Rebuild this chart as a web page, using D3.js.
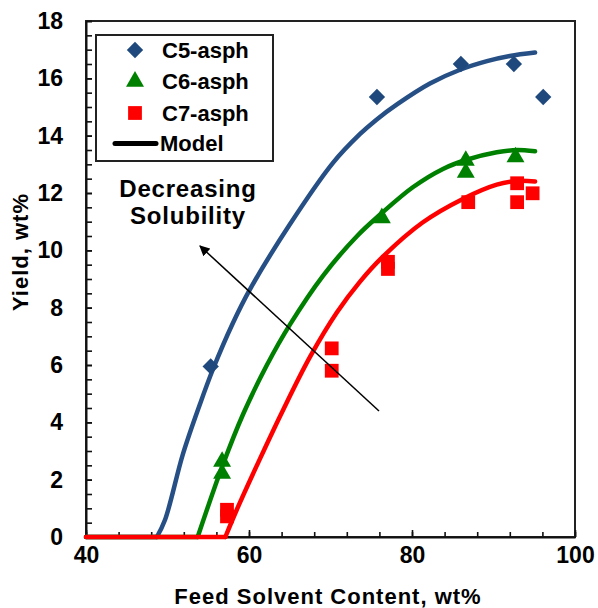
<!DOCTYPE html>
<html>
<head>
<meta charset="utf-8">
<script src="https://cdn.jsdelivr.net/npm/d3@7"></script>
<style>
  html, body { margin: 0; padding: 0; background: #fff; }
  svg { display: block; font-family: "Liberation Sans", Arial, sans-serif; }
</style>
</head>
<body>
<svg id="chart" width="598" height="608"></svg>
<script>
// Measured asphaltene yields
const c5X = [55.3, 75.7, 86.0, 92.5, 96.1];
const c5Y = [5.95, 15.35, 16.5, 16.5, 15.35];
const c6X = [56.7, 56.7, 76.3, 86.6, 86.6, 92.7];
const c6Y = [2.63, 2.21, 11.13, 13.13, 12.71, 13.25];
const c7X = [57.3, 57.3, 70.15, 70.15, 77.05, 77.05, 86.9, 92.9, 92.9, 94.8];
const c7Y = [0.95, 0.72, 6.58, 5.8, 9.6, 9.35, 11.68, 12.34, 11.68, 11.99];

// Model curves (first point is the onset; yield is zero below it)
const modelC5X = [48.7, 49.7, 51.9, 54.0, 55.6, 58.0, 60.1, 65.0, 70.3, 73.6, 75.6, 78.2, 82.2, 85.9, 89.2, 92.0, 95.1];
const modelC5Y = [0, 0.6, 2.9, 4.65, 5.87, 7.45, 8.63, 10.9, 13.05, 14.05, 14.55, 15.1, 15.82, 16.3, 16.6, 16.78, 16.9];
const modelC6X = [53.7, 56.7, 59.3, 62.2, 65.0, 69.1, 73.3, 76.1, 80.1, 83.8, 86.7, 90.4, 92.9, 95.1];
const modelC6Y = [0, 2.45, 4.3, 6.0, 7.4, 9.12, 10.51, 11.25, 12.2, 12.84, 13.16, 13.42, 13.5, 13.46];
const modelC7X = [57.1, 58.5, 61.3, 64.2, 67.5, 70.8, 73.6, 76.4, 81.3, 86.3, 90.4, 92.9, 95.1];
const modelC7Y = [0, 0.95, 2.7, 4.44, 6.29, 7.84, 8.9, 9.77, 10.97, 11.8, 12.29, 12.42, 12.4];
const modelStartX = 40;

// Axis ticks
const xMajorTicks = [40, 60, 80, 100];
const xMinorTicks = d3.range(40, 100.1, 4);
const yMajorTicks = d3.range(0, 18.1, 2);
const yMinorTicks = d3.range(0, 18.01, 0.5);

const seriesNames = ["C5-asph", "C6-asph", "C7-asph"];
const modelName = "Model";
const xTitle = "Feed Solvent Content, wt%";
const yTitle = "Yield, wt%";
const noteLines = ["Decreasing", "Solubility"];

const BLUE = "#1f497d", BLUE_LINE = "#264f85", GREEN = "#008000", RED = "#ff0000";

const svg = d3.select("#chart");
const x = d3.scaleLinear().domain([40, 100]).range([86, 575]);
const y = d3.scaleLinear().domain([0, 18]).range([537, 21]);

// plot frame
svg.append("rect")
  .attr("x", x(40)).attr("y", y(18))
  .attr("width", x(100) - x(40)).attr("height", y(0) - y(18))
  .attr("fill", "none").attr("stroke", "#222").attr("stroke-width", 2);

// x axis: minor ticks, then major ticks with labels
svg.append("g").attr("transform", `translate(0,${y(0)})`)
  .call(d3.axisBottom(x).tickValues(xMinorTicks).tickSizeInner(-5).tickSizeOuter(0).tickFormat(""))
  .call(g => g.selectAll("line").attr("stroke", "#111").attr("stroke-width", 1.6))
  .call(g => g.select(".domain").attr("stroke", "#111").attr("stroke-width", 2));
svg.append("g").attr("transform", `translate(0,${y(0)})`)
  .call(d3.axisBottom(x).tickValues(xMajorTicks).tickSizeInner(-7).tickSizeOuter(0).tickPadding(10).tickFormat(d3.format("d")))
  .call(g => g.select(".domain").remove())
  .call(g => g.selectAll("line").attr("stroke", "#111").attr("stroke-width", 1.6))
  .call(g => g.selectAll("text").attr("font-size", 23).attr("font-weight", "bold")
    .attr("fill", "#000").attr("font-family", "'Liberation Sans', Arial, sans-serif"));

// y axis
svg.append("g").attr("transform", `translate(${x(40)},0)`)
  .call(d3.axisLeft(y).tickValues(yMinorTicks).tickSizeInner(-6).tickSizeOuter(0).tickFormat(""))
  .call(g => g.selectAll("line").attr("stroke", "#111").attr("stroke-width", 1.6))
  .call(g => g.select(".domain").attr("stroke", "#111").attr("stroke-width", 2));
svg.append("g").attr("transform", `translate(${x(40)},0)`)
  .call(d3.axisLeft(y).tickValues(yMajorTicks).tickSizeInner(-6).tickSizeOuter(0).tickPadding(23).tickFormat(d3.format("d")))
  .call(g => g.select(".domain").remove())
  .call(g => g.selectAll("line").attr("stroke", "#111").attr("stroke-width", 1.6))
  .call(g => g.selectAll("text").attr("font-size", 23).attr("font-weight", "bold")
    .attr("fill", "#000").attr("font-family", "'Liberation Sans', Arial, sans-serif"));

// axis titles
svg.append("text")
  .attr("x", 328).attr("y", 604)
  .attr("text-anchor", "middle")
  .attr("font-size", 22).attr("font-weight", "bold").attr("letter-spacing", 1)
  .text(xTitle);
svg.append("text")
  .attr("transform", "translate(28,252) rotate(-90)")
  .attr("text-anchor", "middle")
  .attr("font-size", 22).attr("font-weight", "bold").attr("letter-spacing", 1)
  .text(yTitle);

// model curves: flat zero segment up to onset, then a smooth rise
const flat = d3.line().x(d => x(d[0])).y(d => y(d[1]));
const smooth = d3.line().x(d => x(d[0])).y(d => y(d[1])).curve(d3.curveCatmullRom.alpha(0.5));
const models = [
  { xs: modelC5X, ys: modelC5Y, color: BLUE_LINE },
  { xs: modelC6X, ys: modelC6Y, color: GREEN },
  { xs: modelC7X, ys: modelC7Y, color: RED }
];
models.forEach(m => {
  const g = svg.append("g")
    .attr("fill", "none")
    .attr("stroke", m.color)
    .attr("stroke-width", 4.5)
    .attr("stroke-linecap", "round")
    .attr("stroke-linejoin", "round");
  g.append("path").attr("d", flat([[modelStartX, 0], [m.xs[0], 0]]));
  g.append("path").attr("d", smooth(d3.zip(m.xs, m.ys)));
});

// markers
const diamond = d3.symbol().type(d3.symbolDiamond2).size(170);
const triangle = d3.symbol().type(d3.symbolTriangle).size(140);
const square = d3.symbol().type(d3.symbolSquare).size(190);

svg.append("g").selectAll("path").data(d3.zip(c5X, c5Y)).join("path")
  .attr("transform", d => `translate(${x(d[0])},${y(d[1])})`)
  .attr("d", diamond).attr("fill", BLUE);
svg.append("g").selectAll("path").data(d3.zip(c6X, c6Y)).join("path")
  .attr("transform", d => `translate(${x(d[0])},${y(d[1])})`)
  .attr("d", triangle).attr("fill", GREEN);
svg.append("g").selectAll("path").data(d3.zip(c7X, c7Y)).join("path")
  .attr("transform", d => `translate(${x(d[0])},${y(d[1])})`)
  .attr("d", square).attr("fill", RED);

// legend
const legend = svg.append("g");
legend.append("rect")
  .attr("x", 96).attr("y", 35).attr("width", 177).attr("height", 126)
  .attr("fill", "#fff").attr("stroke", "#222").attr("stroke-width", 2);
const rowsY = [50, 81.5, 113, 143.5];
const legendSymbols = [
  { sym: diamond, color: BLUE },
  { sym: triangle, color: GREEN },
  { sym: square, color: RED }
];
legendSymbols.forEach((s, i) => {
  legend.append("path")
    .attr("transform", `translate(135,${rowsY[i]})`)
    .attr("d", s.sym).attr("fill", s.color);
  legend.append("text")
    .attr("x", 162).attr("y", rowsY[i]).attr("dy", "0.36em")
    .attr("font-size", 22).attr("font-weight", "bold")
    .text(seriesNames[i]);
});
legend.append("line")
  .attr("x1", 115).attr("x2", 156).attr("y1", rowsY[3]).attr("y2", rowsY[3])
  .attr("stroke", "#000").attr("stroke-width", 5).attr("stroke-linecap", "round");
legend.append("text")
  .attr("x", 160).attr("y", rowsY[3]).attr("dy", "0.36em")
  .attr("font-size", 22).attr("font-weight", "bold")
  .text(modelName);

// annotation arrow and label
svg.append("defs").append("marker")
  .attr("id", "arrowhead").attr("viewBox", "0 0 10 10")
  .attr("refX", 9).attr("refY", 5)
  .attr("markerWidth", 7).attr("markerHeight", 7)
  .attr("markerUnits", "strokeWidth")
  .attr("orient", "auto")
  .append("path").attr("d", "M0,0 L10,5 L0,10 Z").attr("fill", "#000");
svg.append("line")
  .attr("x1", 379).attr("y1", 411).attr("x2", 200).attr("y2", 246)
  .attr("stroke", "#000").attr("stroke-width", 1.5)
  .attr("marker-end", "url(#arrowhead)");
noteLines.forEach((t, i) => {
  svg.append("text")
    .attr("x", 188).attr("y", 197 + i * 26.5)
    .attr("text-anchor", "middle")
    .attr("font-size", 24).attr("font-weight", "bold").attr("letter-spacing", 0.8)
    .text(t);
});
</script>
</body>
</html>
